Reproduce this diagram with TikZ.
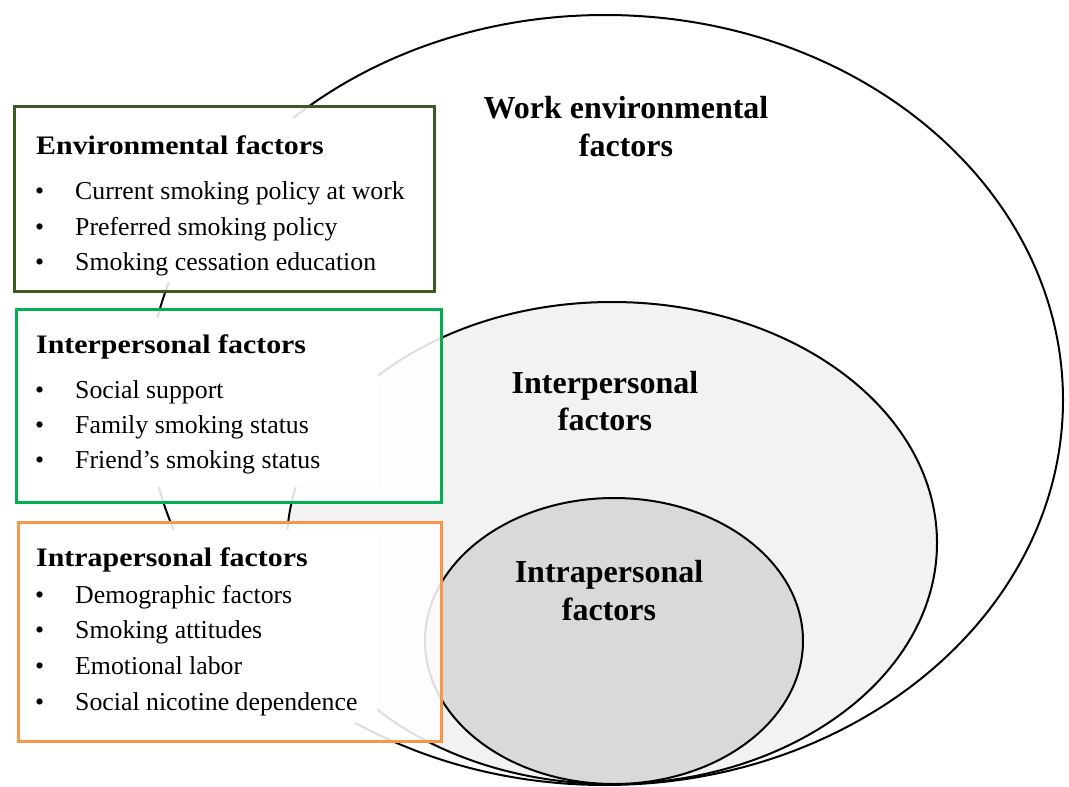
\documentclass[tikz,border=0pt]{standalone}
\usepackage{fontspec}
\usepackage{graphicx}
\setmainfont{Liberation Serif}
\usetikzlibrary{shapes.geometric}
\definecolor{envgreen}{HTML}{3B5A26}
\definecolor{intergreen}{HTML}{00B050}
\definecolor{intraorange}{HTML}{F79646}
\definecolor{midgray}{HTML}{F2F2F2}
\definecolor{coregray}{HTML}{D9D9D9}

\begin{document}
\begin{tikzpicture}[x=1pt,y=-1pt,
  ring/.style={ellipse, draw=black, line width=2pt, inner sep=0pt},
  factorbox/.style={line width=3pt, fill=white, fill opacity=0.87, inner sep=0pt, anchor=north west},
  textpane/.style={fill=white},
  ringlabel/.style={font=\fontsize{32}{38}\selectfont\bfseries, anchor=base, inner sep=0pt},
  boxhead/.style={font=\fontsize{26.7}{32}\selectfont\bfseries, anchor=base west, inner sep=0pt},
  item/.style={font=\fontsize{25.8}{32}\selectfont, anchor=base west, inner sep=0pt},
]
\useasboundingbox (0,0) rectangle (1069,787);
\fill[white] (0,0) rectangle (1069,787);

% nested ellipses of the ecological model
\node[ring, fill=white, minimum width=916pt, minimum height=770pt] (work) at (605,400) {};
\node[ring, fill=midgray, minimum width=650pt, minimum height=482pt] (inter) at (612,543) {};
\node[ring, fill=coregray, minimum width=378pt, minimum height=286pt] (intra) at (614,641) {};

% ellipse labels
\node[ringlabel] (worklabA) at (626,118) {Work environmental};
\node[ringlabel] (worklabB) at (626,156) {factors};
\node[ringlabel] (interlabA) at (605,393) {Interpersonal};
\node[ringlabel] (interlabB) at (605,430) {factors};
\node[ringlabel] (intralabA) at (609,582) {Intrapersonal};
\node[ringlabel] (intralabB) at (609,620) {factors};

% factor boxes (slightly translucent, opaque behind the text)
\node[factorbox, draw=envgreen, minimum width=420pt, minimum height=185pt] (envbox) at (13,105) {};
\fill[textpane] (20,118) rectangle (420,282);
\node[factorbox, draw=intergreen, minimum width=425pt, minimum height=193pt] (interbox) at (15,308) {};
\fill[textpane] (22,318) rectangle (378,487);
\node[factorbox, draw=intraorange, minimum width=423pt, minimum height=219pt] (intrabox) at (17,521) {};
\fill[textpane] (22,530) rectangle (377,723);

% environmental factors
\node[boxhead] (envhead) at (36,154) {\scalebox{1.12}[1]{Environmental factors}};
\node[item] (envb1) at (35,199) {•};
\node[item] (envt1) at (75,199) {Current smoking policy at work};
\node[item] (envb2) at (35,235.5) {•};
\node[item] (envt2) at (75,235.5) {Preferred smoking policy};
\node[item] (envb3) at (35,270.5) {•};
\node[item] (envt3) at (75,270.5) {Smoking cessation education};

% interpersonal factors
\node[boxhead] (interhead) at (36,353) {\scalebox{1.12}[1]{Interpersonal factors}};
\node[item] (interb1) at (35,398) {•};
\node[item] (intert1) at (75,398) {Social support};
\node[item] (interb2) at (35,433) {•};
\node[item] (intert2) at (75,433) {Family smoking status};
\node[item] (interb3) at (35,468) {•};
\node[item] (intert3) at (75,468) {Friend’s smoking status};

% intrapersonal factors
\node[boxhead] (intrahead) at (36,566) {\scalebox{1.12}[1]{Intrapersonal factors}};
\node[item] (intrab1) at (35,603) {•};
\node[item] (intrat1) at (75,603) {Demographic factors};
\node[item] (intrab2) at (35,638.5) {•};
\node[item] (intrat2) at (75,638.5) {Smoking attitudes};
\node[item] (intrab3) at (35,674.5) {•};
\node[item] (intrat3) at (75,674.5) {Emotional labor};
\node[item] (intrab4) at (35,710) {•};
\node[item] (intrat4) at (75,710) {Social nicotine dependence};
\end{tikzpicture}
\end{document}
